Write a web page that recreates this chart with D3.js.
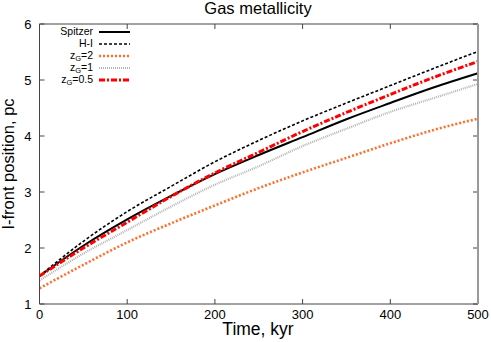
<!DOCTYPE html>
<html>
<head>
<meta charset="utf-8">
<script src="https://cdn.jsdelivr.net/npm/d3@7"></script>
<style>
  body { margin: 0; background: #fff; }
  svg { display: block; font-family: "Liberation Sans", Arial, sans-serif; }
</style>
</head>
<body>
<svg width="491" height="342"></svg>
<script>
// time in kyr
const times   = [0, 50, 100, 150, 200, 250, 300, 350, 400, 450, 500];
const spitzer = [1.50, 2.04, 2.51, 2.93, 3.32, 3.66, 3.98, 4.30, 4.59, 4.87, 5.12];
const hI      = [1.50, 2.12, 2.65, 3.10, 3.54, 3.92, 4.27, 4.59, 4.90, 5.21, 5.51];
const zG2     = [1.28, 1.70, 2.10, 2.44, 2.76, 3.07, 3.35, 3.61, 3.87, 4.11, 4.31];
const zG1     = [1.42, 1.90, 2.32, 2.74, 3.13, 3.46, 3.82, 4.13, 4.43, 4.68, 4.93];
const zG05    = [1.50, 2.00, 2.46, 2.92, 3.34, 3.71, 4.08, 4.42, 4.74, 5.05, 5.33];
const xTicks  = [0, 100, 200, 300, 400, 500];
const yTicks  = [1, 2, 3, 4, 5, 6];

const series = [
  { name: "Spitzer", sub: null, values: spitzer, color: "#000", width: 2,   dash: null },
  { name: "H-I",     sub: null, values: hI,      color: "#000", width: 1.6, dash: "3,2" },
  { name: "z",  sub: ["G", "=2"],   values: zG2,  color: "#ff6f2a", width: 2.6, dash: "2,2" },
  { name: "z",  sub: ["G", "=1"],   values: zG1,  color: "#b4b4b4", width: 2.2, dash: "1,1" },
  { name: "z",  sub: ["G", "=0.5"], values: zG05, color: "#f00", width: 3,   dash: "6,2,2,2" }
];

const svg = d3.select("svg");
const margin = { top: 24, right: 13, bottom: 38, left: 40 };
const width = 491, height = 342;

const x = d3.scaleLinear().domain([0, 500]).range([margin.left - 0.5, width - margin.right]);
const y = d3.scaleLinear().domain([1, 6]).range([height - margin.bottom, margin.top]);

// ticks, mirrored and pointing inward
const tl = 5;
svg.append("g").attr("stroke", "#444").selectAll("line.xb").data(xTicks).join("line")
  .attr("x1", d => x(d)).attr("x2", d => x(d))
  .attr("y1", y(1)).attr("y2", y(1) - tl);
svg.append("g").attr("stroke", "#444").selectAll("line.xt").data(xTicks).join("line")
  .attr("x1", d => x(d)).attr("x2", d => x(d))
  .attr("y1", y(6)).attr("y2", y(6) + tl);
svg.append("g").attr("stroke", "#444").selectAll("line.yl").data(yTicks).join("line")
  .attr("x1", x(0)).attr("x2", x(0) + tl)
  .attr("y1", d => y(d)).attr("y2", d => y(d));
svg.append("g").attr("stroke", "#444").selectAll("line.yr").data(yTicks).join("line")
  .attr("x1", x(500)).attr("x2", x(500) - tl)
  .attr("y1", d => y(d)).attr("y2", d => y(d));

// tick labels
svg.append("g").attr("font-size", 13).attr("text-anchor", "middle").attr("fill", "#000")
  .selectAll("text").data(xTicks).join("text")
  .attr("x", d => x(d)).attr("y", y(1) + 15).text(d => d);
svg.append("g").attr("font-size", 13).attr("text-anchor", "end").attr("fill", "#000")
  .selectAll("text").data(yTicks).join("text")
  .attr("x", x(0) - 8).attr("y", d => y(d) + 5).text(d => d);

// curves
const line = d3.line().curve(d3.curveMonotoneX);
const plot = svg.append("g");
series.forEach(s => {
  plot.append("path")
    .attr("fill", "none")
    .attr("stroke", s.color)
    .attr("stroke-width", s.width)
    .attr("stroke-dasharray", s.dash)
    .attr("d", line(times.map((t, i) => [x(t), y(s.values[i])])));
});

// frame
svg.append("path").attr("fill", "none").attr("stroke", "#444")
  .attr("d", `M${x(500)},${y(6)}H${x(0)}V${y(1)}H${x(500)}`);
svg.append("line").attr("stroke", "#999").attr("stroke-width", 2)
  .attr("x1", x(500)).attr("x2", x(500)).attr("y1", y(6)).attr("y2", y(1));

// legend
const lg = svg.append("g").attr("font-size", 10.5);
series.forEach((s, i) => {
  const ly = 32 + i * 12;
  const t = lg.append("text").attr("x", 93).attr("y", ly + 3).attr("text-anchor", "end");
  if (s.sub) {
    t.append("tspan").text(s.name);
    t.append("tspan").attr("font-size", 7.5).attr("dy", 1.5).text(s.sub[0]);
    t.append("tspan").attr("dy", -1.5).text(s.sub[1]);
  } else {
    t.text(s.name);
  }
  lg.append("line")
    .attr("x1", 99).attr("x2", 130).attr("y1", ly).attr("y2", ly)
    .attr("stroke", s.color).attr("stroke-width", s.width)
    .attr("stroke-dasharray", s.dash);
});

// title and axis labels
svg.append("text").attr("x", 258).attr("y", 14).attr("text-anchor", "middle")
  .attr("font-size", 16.5).text("Gas metallicity");
svg.append("text").attr("x", 258).attr("y", 335).attr("text-anchor", "middle")
  .attr("font-size", 17.5).text("Time, kyr");
svg.append("text").attr("transform", `translate(14,${(y(1) + y(6)) / 2}) rotate(-90)`)
  .attr("text-anchor", "middle").attr("font-size", 16.5).text("I-front position, pc");
</script>
</body>
</html>
